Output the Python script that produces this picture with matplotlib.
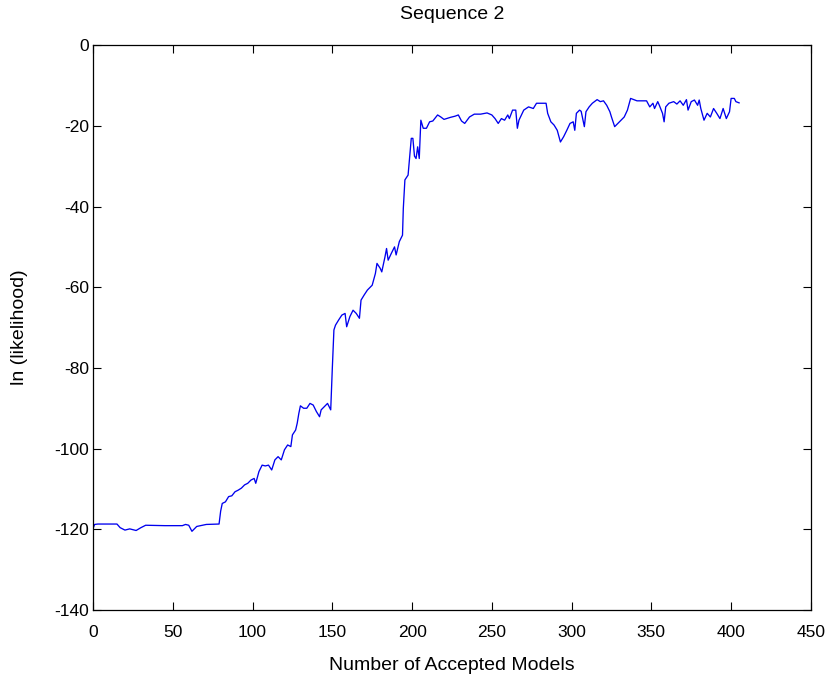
import numpy as np
import matplotlib.pyplot as plt

# chain trace: accepted model index vs log likelihood (10 points per row)
model_idx = [0, 1, 3, 15, 17, 20, 23, 27, 30, 33,
             45, 56, 58, 60, 62, 65, 71, 79, 80, 81,
             83, 85, 87, 89, 91, 93, 95, 97, 99, 101,
             102, 104, 106, 108, 110, 112, 114, 116, 118, 120,
             122, 124, 125, 127, 128, 129, 130, 132, 134, 136,
             138, 140, 142, 143, 145, 147, 149, 150, 151, 152,
             154, 156, 158, 159, 161, 163, 165, 167, 168, 170,
             172, 175, 177, 178, 180, 181, 183, 184, 185, 187,
             189, 190, 192, 194, 194.5, 195.5, 197.5, 198.5, 199.5, 200.5,
             201.5, 202.5, 203.5, 204.5, 205.5, 207, 209, 211, 213, 216,
             218, 220, 224, 227, 229, 231, 233, 236, 239, 243,
             247, 250, 252, 254, 256, 258, 260, 261, 263, 265,
             266, 267, 270, 273, 276, 278, 280, 282, 284, 285,
             287, 289, 291, 293, 295, 297, 299, 301, 302, 303,
             305, 306, 308, 309, 311, 313, 316, 318, 320, 322,
             324, 325, 327, 329, 331, 333, 335, 337, 341, 344,
             347, 349, 351, 352, 354, 355, 357, 358, 359, 361,
             364, 366, 368, 370, 372, 373, 375, 377, 379, 380,
             381, 383, 385, 387, 389, 391, 393, 395, 397, 399,
             400, 402, 403, 405]
log_lik = [-119.8, -118.8, -118.7, -118.7, -119.6, -120.2, -119.9, -120.3, -119.6, -119.0,
           -119.1, -119.1, -118.8, -119.0, -120.5, -119.3, -118.8, -118.7, -115.5, -113.6,
           -113.2, -111.9, -111.7, -110.7, -110.3, -109.8, -109.0, -108.6, -107.8, -107.4,
           -108.6, -105.7, -104.1, -104.3, -104.1, -105.3, -102.8, -102.0, -102.8, -100.3,
           -99.1, -99.5, -96.6, -95.4, -93.7, -91.3, -89.4, -90.0, -90.0, -88.8,
           -89.2, -90.8, -92.1, -90.4, -89.6, -88.8, -90.4, -80.1, -70.6, -69.4,
           -68.1, -66.9, -66.5, -69.8, -67.3, -65.7, -66.5, -67.7, -63.2, -61.9,
           -60.7, -59.5, -56.6, -54.1, -55.3, -56.2, -52.5, -50.4, -53.3, -51.6,
           -50.0, -52.0, -48.7, -47.1, -40.5, -33.4, -32.2, -27.7, -23.1, -23.1,
           -27.5, -28.1, -25.2, -28.1, -18.6, -20.6, -20.6, -19.0, -18.8, -17.3,
           -17.8, -18.4, -17.9, -17.6, -17.3, -18.8, -19.4, -17.8, -17.1, -17.1,
           -16.8, -17.3, -18.2, -19.4, -18.2, -18.6, -17.3, -18.2, -16.1, -16.1,
           -20.6, -18.6, -16.1, -15.3, -15.7, -14.4, -14.4, -14.4, -14.4, -16.9,
           -19.0, -19.8, -21.1, -24.0, -22.7, -21.1, -19.4, -19.0, -21.1, -16.9,
           -16.1, -16.4, -20.2, -16.5, -15.3, -14.4, -13.5, -14.0, -13.8, -14.9,
           -16.5, -17.8, -20.2, -19.4, -18.6, -17.8, -16.1, -13.2, -13.8, -13.8,
           -13.8, -15.3, -14.4, -15.7, -14.0, -14.9, -16.9, -19.0, -15.3, -14.4,
           -14.0, -14.6, -13.8, -14.9, -13.5, -16.1, -14.0, -13.6, -14.9, -13.6,
           -15.7, -18.6, -16.9, -17.8, -15.7, -16.9, -18.2, -15.7, -18.2, -16.5,
           -13.2, -13.2, -14.0, -14.3]

plt.rcParams['font.family'] = ['DejaVu Sans Condensed', 'Liberation Sans', 'DejaVu Sans']
plt.rcParams['axes.unicode_minus'] = False

fig = plt.figure(figsize=(8.27, 6.74), dpi=100)
ax = fig.add_axes([0.1125, 0.095, 0.868, 0.838])

ax.plot(model_idx, log_lik, color='#0000ee', linewidth=0.95)

ax.set_xlim(0, 450)
ax.set_ylim(-140, 0)
ax.set_xticks(np.arange(0, 451, 50))
ax.set_yticks(np.arange(-140, 1, 20))
ax.tick_params(direction='in', top=True, right=True, length=6, width=0.8,
               labelsize=12.5)
ax.tick_params(axis='x', pad=11)
ax.tick_params(axis='y', pad=3)
for s in ax.spines.values():
    s.set_linewidth(0.9)

ax.set_title('Sequence 2', fontsize=14, pad=19)
ax.set_xlabel('Number of Accepted Models', fontsize=14, labelpad=12)
ax.set_ylabel('ln (likelihood)', fontsize=14, labelpad=19)

fig.savefig('out.png', dpi=100)
